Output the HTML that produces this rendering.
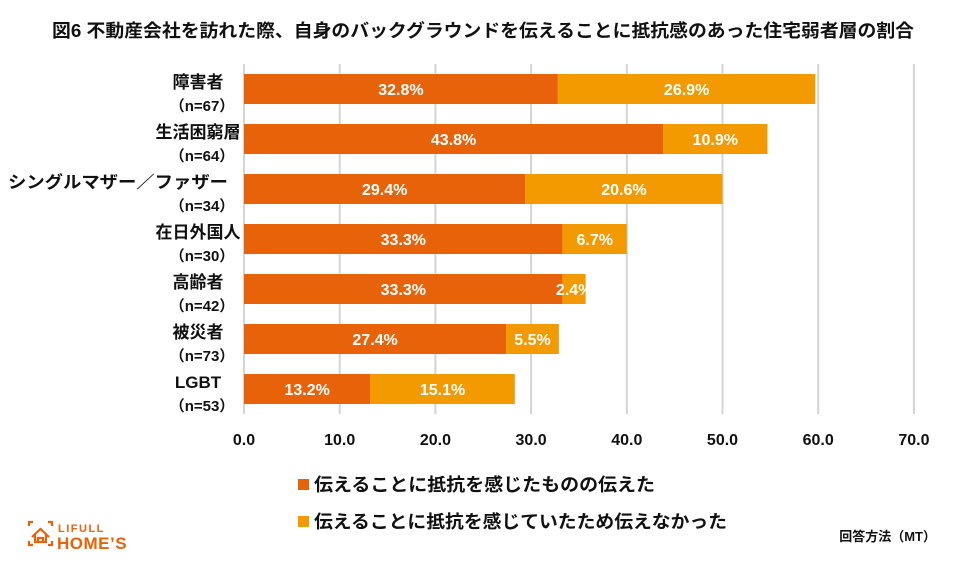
<!DOCTYPE html>
<html><head><meta charset="utf-8"><style>
body{margin:0;background:#fff;width:958px;height:561px;overflow:hidden;font-family:"Liberation Sans","Noto Sans CJK JP",sans-serif}
</style></head><body>
<svg id="chart" width="958" height="561" xmlns="http://www.w3.org/2000/svg" font-family="Liberation Sans, Noto Sans CJK JP, sans-serif">
<text x="52" y="37" textLength="862" lengthAdjust="spacingAndGlyphs" font-size="18" font-weight="bold" fill="#111">図6 不動産会社を訪れた際、自身のバックグラウンドを伝えることに抵抗感のあった住宅弱者層の割合</text>
<g id="grid"></g><g id="bars"></g><g id="labels"></g><g id="xt"></g>
<g>
<rect x="298" y="479" width="11" height="11" fill="#E8620A"/>
<text x="314" y="491" textLength="341" lengthAdjust="spacingAndGlyphs" font-size="18" font-weight="bold" fill="#111">伝えることに抵抗を感じたものの伝えた</text>
<rect x="298" y="516" width="11" height="11" fill="#F39A00"/>
<text x="314" y="528" textLength="413" lengthAdjust="spacingAndGlyphs" font-size="18" font-weight="bold" fill="#111">伝えることに抵抗を感じていたため伝えなかった</text>
</g>
<text x="936" y="541" text-anchor="end" font-size="13" font-weight="bold" fill="#111">回答方法（MT）</text>
<g fill="none" stroke="#E8620A" stroke-width="2.2">
<path d="M29 526v-4h4M48 522h4v4M29 541v4h4M48 545h4v-4"/>
<path d="M32 537l8.5-8 8.5 8M35 534v8h11v-8"/>
<path d="M38 542v-4h5v4"/>
<text x="58" y="532" font-size="11" font-weight="bold" fill="#E8620A" stroke="none" letter-spacing="1.5">LIFULL</text>
<text x="57" y="549" font-size="17" font-weight="bold" fill="#E8620A" stroke="none" letter-spacing="0.5">HOME’S</text>
</g>
</svg>
<script>
const categories=["障害者","生活困窮層","シングルマザー／ファザー","在日外国人","高齢者","被災者","LGBT"];
const sampleSizes=["（n=67）","（n=64）","（n=34）","（n=30）","（n=42）","（n=73）","（n=53）"];
const toldValues=[32.8,43.8,29.4,33.3,33.3,27.4,13.2];
const notToldValues=[26.9,10.9,20.6,6.7,2.4,5.5,15.1];
const xTicks=[0,10,20,30,40,50,60,70];
const NS="http://www.w3.org/2000/svg";
const x=v=>244+v*9.57;
const yc=i=>89+i*50;
function mk(p,t,a){const e=document.createElementNS(NS,t);for(const k in a)e.setAttribute(k,a[k]);document.getElementById(p).appendChild(e);return e;}
xTicks.forEach((t,i)=>{
 if(i>0){const g=mk("grid","line",{x1:x(t),x2:x(t),y1:64,y2:414,stroke:"#d4d4d4","stroke-width":2});
 
 }
 const l=mk("xt","text",{x:x(t),y:445,"text-anchor":"middle","font-size":16,"font-weight":"bold",fill:"#111"});
 l.textContent=t.toFixed(1);
 
 
});
const ax=mk("grid","line",{x1:244,x2:244,y1:64,y2:414,stroke:"#d4d4d4","stroke-width":2});


categories.forEach((c,i)=>{
 const a=toldValues[i],b=notToldValues[i];
 const r1=mk("bars","rect",{x:x(0),y:yc(i)-15,width:x(a)-x(0),height:30,fill:"#E8620A"});
 
 
 const r2=mk("bars","rect",{x:x(a),y:yc(i)-15,width:x(a+b)-x(a),height:30,fill:"#F39A00"});
 
 
 const t1=mk("labels","text",{x:(x(0)+x(a))/2,y:yc(i)+6,"text-anchor":"middle","font-size":16,"font-weight":"bold",fill:"#fff"});
 t1.textContent=a.toFixed(1)+"%";
 
 
 const t2=mk("labels","text",{x:(x(a)+x(a+b))/2,y:yc(i)+6,"text-anchor":"middle","font-size":16,"font-weight":"bold",fill:"#fff"});
 t2.textContent=b.toFixed(1)+"%";
 
 
 const n=mk("labels","text",{x:198,y:yc(i)-1,"text-anchor":"middle","font-size":17,"font-weight":"bold",fill:"#111"});
 n.textContent=c;
 
 
 if(c.length>8){n.setAttribute("x",8);n.setAttribute("text-anchor","start");n.setAttribute("textLength",220);n.setAttribute("lengthAdjust","spacingAndGlyphs");}
 const s=mk("labels","text",{x:202,y:yc(i)+22,"text-anchor":"middle","font-size":15,"font-weight":"bold",fill:"#111"});
 s.textContent=sampleSizes[i];
 
 
});
</script>
</body></html>
